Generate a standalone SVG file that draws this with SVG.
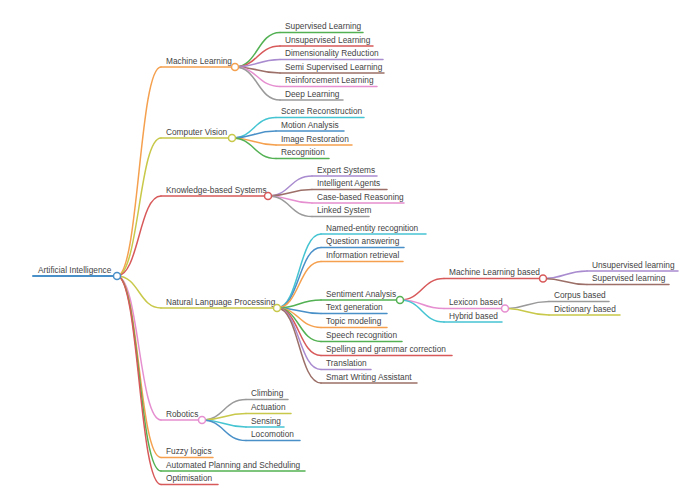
<svg xmlns="http://www.w3.org/2000/svg" width="700" height="494" viewBox="0 0 700 494">
<style>
text{font-family:"Liberation Sans",Arial,sans-serif;font-size:8.3px;fill:#444}
path{fill:none;stroke-width:1.5;stroke-linecap:round}
circle{fill:#fff;stroke-width:1.5}
.c0{stroke:#4a90c8}.c1{stroke:#f5a04e}.c2{stroke:#53b153}.c3{stroke:#d8595a}.c4{stroke:#a98bcf}
.c5{stroke:#9c7068}.c6{stroke:#e68fd0}.c7{stroke:#9a9a9a}.c8{stroke:#c8c84a}.c9{stroke:#45c4d2}
</style>
<rect width="700" height="494" fill="#fff"/>
<g id="connectors">
<path class="c1" d="M117 276 C139 276 139 67 161 67"/>
<path class="c8" d="M117 276 C139 276 139 138 161 138"/>
<path class="c3" d="M117 276 C139 276 139 196 161 196"/>
<path class="c8" d="M117 276 C139 276 139 308 161 308"/>
<path class="c6" d="M117 276 C139 276 139 420 161 420"/>
<path class="c1" d="M117 276 C139 276 139 457.5 161 457.5"/>
<path class="c2" d="M117 276 C139 276 139 471 161 471"/>
<path class="c3" d="M117 276 C139 276 139 484.5 161 484.5"/>
<path class="c2" d="M235 67 C257.5 67 257.5 32.5 280 32.5"/>
<path class="c3" d="M235 67 C257.5 67 257.5 46 280 46"/>
<path class="c4" d="M235 67 C257.5 67 257.5 59.5 280 59.5"/>
<path class="c5" d="M235 67 C257.5 67 257.5 73 280 73"/>
<path class="c6" d="M235 67 C257.5 67 257.5 86.5 280 86.5"/>
<path class="c7" d="M235 67 C257.5 67 257.5 100 280 100"/>
<path class="c9" d="M232 138 C254 138 254 117.5 276 117.5"/>
<path class="c0" d="M232 138 C254 138 254 131 276 131"/>
<path class="c1" d="M232 138 C254 138 254 145 276 145"/>
<path class="c2" d="M232 138 C254 138 254 158.5 276 158.5"/>
<path class="c4" d="M268 196 C290 196 290 176 312 176"/>
<path class="c5" d="M268 196 C290 196 290 189.5 312 189.5"/>
<path class="c6" d="M268 196 C290 196 290 203 312 203"/>
<path class="c7" d="M268 196 C290 196 290 216.5 312 216.5"/>
<path class="c9" d="M277 308 C299 308 299 234 321 234"/>
<path class="c0" d="M277 308 C299 308 299 247.5 321 247.5"/>
<path class="c1" d="M277 308 C299 308 299 261.5 321 261.5"/>
<path class="c2" d="M277 308 C299 308 299 300 321 300"/>
<path class="c0" d="M277 308 C299 308 299 313.5 321 313.5"/>
<path class="c1" d="M277 308 C299 308 299 327.5 321 327.5"/>
<path class="c2" d="M277 308 C299 308 299 341.5 321 341.5"/>
<path class="c3" d="M277 308 C299 308 299 355.5 321 355.5"/>
<path class="c4" d="M277 308 C299 308 299 369.5 321 369.5"/>
<path class="c5" d="M277 308 C299 308 299 383 321 383"/>
<path class="c3" d="M400 300 C422 300 422 278.5 444 278.5"/>
<path class="c6" d="M400 300 C422 300 422 308.5 444 308.5"/>
<path class="c9" d="M400 300 C422 300 422 322 444 322"/>
<path class="c4" d="M543 278.5 C565 278.5 565 271 587 271"/>
<path class="c5" d="M543 278.5 C565 278.5 565 284.5 587 284.5"/>
<path class="c7" d="M505 308.5 C527 308.5 527 301.5 549 301.5"/>
<path class="c8" d="M505 308.5 C527 308.5 527 315 549 315"/>
<path class="c7" d="M202 420 C224 420 224 399.5 246 399.5"/>
<path class="c8" d="M202 420 C224 420 224 413.5 246 413.5"/>
<path class="c9" d="M202 420 C224 420 224 427 246 427"/>
<path class="c0" d="M202 420 C224 420 224 440.5 246 440.5"/>
</g>
<g id="n-root"><path class="c0" style="stroke-width:2" d="M33 276 H117"/><text x="38" y="272.5">Artificial Intelligence</text><circle class="c0" cx="117" cy="276" r="3.5"/></g>
<g id="n-ml"><path class="c1" d="M161 67 H235"/><text x="166" y="63.5">Machine Learning</text><circle class="c1" cx="235" cy="67" r="3.5"/></g>
<g id="n-ml-sup"><path class="c2" d="M280 32.5 H363"/><text x="285" y="29">Supervised Learning</text></g>
<g id="n-ml-unsup"><path class="c3" d="M280 46 H373"/><text x="285" y="42.5">Unsupervised Learning</text></g>
<g id="n-ml-dim"><path class="c4" d="M280 59.5 H383"/><text x="285" y="56">Dimensionality Reduction</text></g>
<g id="n-ml-semi"><path class="c5" d="M280 73 H384"/><text x="285" y="69.5">Semi Supervised Learning</text></g>
<g id="n-ml-rein"><path class="c6" d="M280 86.5 H377"/><text x="285" y="83">Reinforcement Learning</text></g>
<g id="n-ml-deep"><path class="c7" d="M280 100 H343"/><text x="285" y="96.5">Deep Learning</text></g>
<g id="n-cv"><path class="c8" d="M161 138 H232"/><text x="166" y="134.5">Computer Vision</text><circle class="c8" cx="232" cy="138" r="3.5"/></g>
<g id="n-cv-scene"><path class="c9" d="M276 117.5 H364"/><text x="281" y="114">Scene Reconstruction</text></g>
<g id="n-cv-motion"><path class="c0" d="M276 131 H344"/><text x="281" y="127.5">Motion Analysis</text></g>
<g id="n-cv-image"><path class="c1" d="M276 145 H352"/><text x="281" y="141.5">Image Restoration</text></g>
<g id="n-cv-recog"><path class="c2" d="M276 158.5 H329"/><text x="281" y="155">Recognition</text></g>
<g id="n-kbs"><path class="c3" d="M161 196 H268"/><text x="166" y="192.5">Knowledge-based Systems</text><circle class="c3" cx="268" cy="196" r="3.5"/></g>
<g id="n-kbs-expert"><path class="c4" d="M312 176 H377"/><text x="317" y="172.5">Expert Systems</text></g>
<g id="n-kbs-agents"><path class="c5" d="M312 189.5 H387"/><text x="317" y="186">Intelligent Agents</text></g>
<g id="n-kbs-case"><path class="c6" d="M312 203 H404"/><text x="317" y="199.5">Case-based Reasoning</text></g>
<g id="n-kbs-linked"><path class="c7" d="M312 216.5 H369"/><text x="317" y="213">Linked System</text></g>
<g id="n-nlp"><path class="c8" d="M161 308 H277"/><text x="166" y="304.5">Natural Language Processing</text><circle class="c8" cx="277" cy="308" r="3.5"/></g>
<g id="n-nlp-ner"><path class="c9" d="M321 234 H426"/><text x="326" y="230.5">Named-entity recognition</text></g>
<g id="n-nlp-qa"><path class="c0" d="M321 247.5 H404"/><text x="326" y="244">Question answering</text></g>
<g id="n-nlp-ir"><path class="c1" d="M321 261.5 H403"/><text x="326" y="258">Information retrieval</text></g>
<g id="n-nlp-sent"><path class="c2" d="M321 300 H400"/><text x="326" y="296.5">Sentiment Analysis</text><circle class="c2" cx="400" cy="300" r="3.5"/></g>
<g id="n-sent-ml"><path class="c3" d="M444 278.5 H543"/><text x="449" y="275">Machine Learning based</text><circle class="c3" cx="543" cy="278.5" r="3.5"/></g>
<g id="n-sentml-unsup"><path class="c4" d="M587 271 H678"/><text x="592" y="267.5">Unsupervised learning</text></g>
<g id="n-sentml-sup"><path class="c5" d="M587 284.5 H669"/><text x="592" y="281">Supervised learning</text></g>
<g id="n-sent-lex"><path class="c6" d="M444 308.5 H505"/><text x="449" y="305">Lexicon based</text><circle class="c6" cx="505" cy="308.5" r="3.5"/></g>
<g id="n-lex-corpus"><path class="c7" d="M549 301.5 H609"/><text x="554" y="298">Corpus based</text></g>
<g id="n-lex-dict"><path class="c8" d="M549 315 H620"/><text x="554" y="311.5">Dictionary based</text></g>
<g id="n-sent-hybrid"><path class="c9" d="M444 322 H502"/><text x="449" y="318.5">Hybrid based</text></g>
<g id="n-nlp-textgen"><path class="c0" d="M321 313.5 H387"/><text x="326" y="310">Text generation</text></g>
<g id="n-nlp-topic"><path class="c1" d="M321 327.5 H387"/><text x="326" y="324">Topic modeling</text></g>
<g id="n-nlp-speech"><path class="c2" d="M321 341.5 H402"/><text x="326" y="338">Speech recognition</text></g>
<g id="n-nlp-spell"><path class="c3" d="M321 355.5 H452"/><text x="326" y="352">Spelling and grammar correction</text></g>
<g id="n-nlp-trans"><path class="c4" d="M321 369.5 H371"/><text x="326" y="366">Translation</text></g>
<g id="n-nlp-smart"><path class="c5" d="M321 383 H417"/><text x="326" y="379.5">Smart Writing Assistant</text></g>
<g id="n-rob"><path class="c6" d="M161 420 H202"/><text x="166" y="416.5">Robotics</text><circle class="c6" cx="202" cy="420" r="3.5"/></g>
<g id="n-rob-climb"><path class="c7" d="M246 399.5 H288"/><text x="251" y="396">Climbing</text></g>
<g id="n-rob-act"><path class="c8" d="M246 413.5 H291"/><text x="251" y="410">Actuation</text></g>
<g id="n-rob-sens"><path class="c9" d="M246 427 H284"/><text x="251" y="423.5">Sensing</text></g>
<g id="n-rob-loco"><path class="c0" d="M246 440.5 H300"/><text x="251" y="437">Locomotion</text></g>
<g id="n-fuzzy"><path class="c1" d="M161 457.5 H213"/><text x="166" y="454">Fuzzy logics</text></g>
<g id="n-plan"><path class="c2" d="M161 471 H305"/><text x="166" y="467.5">Automated Planning and Scheduling</text></g>
<g id="n-opt"><path class="c3" d="M161 484.5 H218"/><text x="166" y="481">Optimisation</text></g>
</svg>
